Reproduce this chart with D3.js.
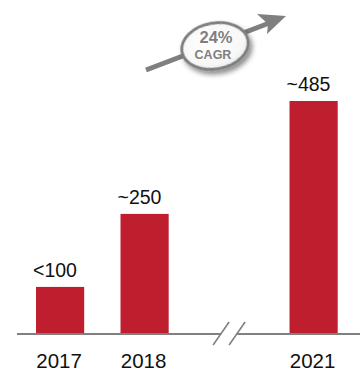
<!DOCTYPE html>
<html>
<head>
<meta charset="utf-8">
<script src="https://cdn.jsdelivr.net/npm/d3@7/dist/d3.min.js"></script>
<style>
  html, body { margin: 0; padding: 0; background: #fff; }
  svg { display: block; font-family: "Liberation Sans", Arial, sans-serif; }
</style>
</head>
<body>
<svg id="chart" width="360" height="371"></svg>
<script>
// Market size by year (approximate values shown as labels)
const slots = ["2017", "2018", "break", "2021"];
const years = ["2017", "2018", "2021"];
const values = [98, 250, 485];
const valueLabels = ["<100", "~250", "~485"];
const cagrLabel = ["24%", "CAGR"];

const svg = d3.select("#chart");
const baseY = 334;

const x = d3.scaleBand()
  .domain(slots)
  .range([36, 337.7])
  .paddingInner(0.43)
  .paddingOuter(0);

const y = d3.scaleLinear()
  .domain([0, 485])
  .range([baseY, 101]);

const data = years.map((yr, i) => ({ year: yr, value: values[i], label: valueLabels[i] }));

// Bars
svg.append("g").selectAll("rect")
  .data(data)
  .enter().append("rect")
  .attr("x", d => x(d.year))
  .attr("y", d => y(d.value))
  .attr("width", x.bandwidth())
  .attr("height", d => y(0) - y(d.value))
  .attr("fill", "#be1e2d");

// Value labels above bars
svg.append("g").selectAll("text")
  .data(data)
  .enter().append("text")
  .attr("x", d => x(d.year) - 3)
  .attr("y", d => y(d.value) - 10)
  .attr("font-size", 19.5)
  .attr("fill", "#111")
  .text(d => d.label);

// Baseline with a break between 2018 and 2021
const bx = x("break") + x.bandwidth() / 2;
const axisG = svg.append("g").attr("stroke", "#808080").attr("stroke-width", 2);
axisG.append("line").attr("x1", 17).attr("x2", bx - 8).attr("y1", baseY).attr("y2", baseY);
axisG.append("line").attr("x1", bx + 8).attr("x2", 360).attr("y1", baseY).attr("y2", baseY);
[-8, 8].forEach(off => {
  axisG.append("line")
    .attr("x1", bx + off - 8).attr("y1", baseY + 11)
    .attr("x2", bx + off + 8).attr("y2", baseY - 12)
    .attr("stroke-width", 1.6);
});

// Year labels
svg.append("g").selectAll("text")
  .data(years)
  .enter().append("text")
  .attr("x", d => x(d) + x.bandwidth() / 2 - 1)
  .attr("y", 368)
  .attr("text-anchor", "middle")
  .attr("font-size", 20.5)
  .attr("fill", "#111")
  .text(d => d);

// CAGR arrow annotation
const defs = svg.append("defs");
const shadow = defs.append("filter").attr("id", "shadow")
  .attr("x", "-30%").attr("y", "-30%").attr("width", "160%").attr("height", "170%");
shadow.append("feDropShadow")
  .attr("dx", 2).attr("dy", 4).attr("stdDeviation", 2.5)
  .attr("flood-color", "#000").attr("flood-opacity", 0.45);
const ellGrad = defs.append("radialGradient").attr("id", "ellFill")
  .attr("cx", "45%").attr("cy", "40%").attr("r", "65%");
ellGrad.append("stop").attr("offset", "0%").attr("stop-color", "#ffffff");
ellGrad.append("stop").attr("offset", "75%").attr("stop-color", "#f7f7f7");
ellGrad.append("stop").attr("offset", "100%").attr("stop-color", "#e4e4e4");

const arrow = svg.append("g");
arrow.append("line")
  .attr("x1", 146).attr("y1", 70)
  .attr("x2", 272).attr("y2", 22)
  .attr("stroke", "#7f7f7f").attr("stroke-width", 5);
arrow.append("path")
  .attr("d", "M286,16 L257,14 L268,24 L267,34 Z")
  .attr("fill", "#7f7f7f");

const badge = arrow.append("g").attr("transform", "translate(215,46)");
badge.append("ellipse")
  .attr("rx", 33.5).attr("ry", 23)
  .attr("transform", "rotate(-10)")
  .attr("fill", "url(#ellFill)")
  .attr("stroke", "#7f7f7f").attr("stroke-width", 3)
  .attr("filter", "url(#shadow)");
badge.append("text")
  .attr("x", 1).attr("y", -3)
  .attr("text-anchor", "middle")
  .attr("font-size", 16.5).attr("font-weight", "bold")
  .attr("fill", "#7f7f7f")
  .text(cagrLabel[0]);
badge.append("text")
  .attr("x", -2).attr("y", 12.5)
  .attr("text-anchor", "middle")
  .attr("font-size", 12.5).attr("font-weight", "bold")
  .attr("fill", "#7f7f7f")
  .text(cagrLabel[1]);
</script>
</body>
</html>
